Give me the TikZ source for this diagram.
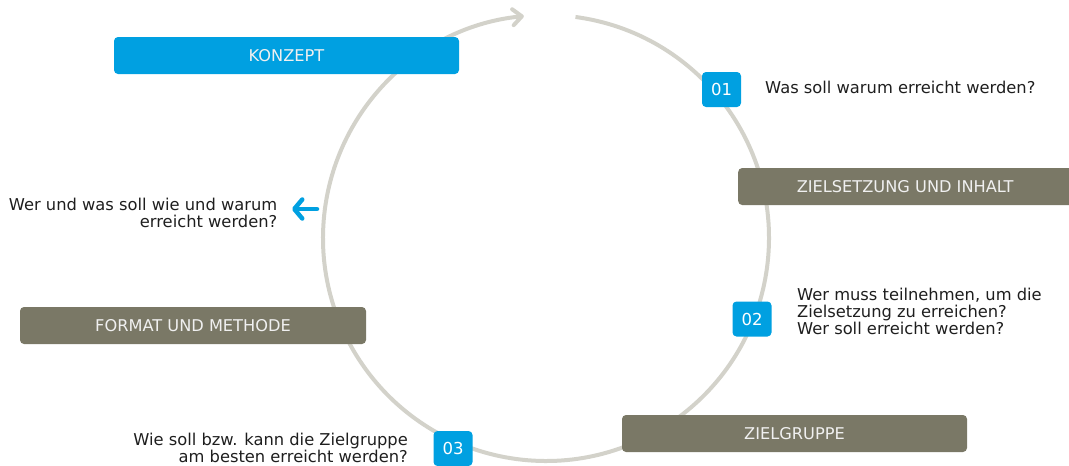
\documentclass[tikz,border=0pt]{standalone}
\usepackage{fontspec}
\setmainfont{DejaVu Sans}
\usetikzlibrary{arrows.meta}
\definecolor{cblue}{RGB}{0,160,225}
\definecolor{colive}{RGB}{122,120,102}
\definecolor{cring}{RGB}{211,210,202}
\definecolor{ctext}{RGB}{30,30,30}
\definecolor{cbartext}{RGB}{240,240,240}
\begin{document}
\begin{tikzpicture}[x=1pt,y=-1pt,
  txt/.style={inner sep=0pt, text=ctext, font=\fontsize{16.3}{17}\selectfont},
  bar/.style={rounded corners=4pt, inner sep=0pt, minimum height=37pt,
    font=\fontsize{16.2}{17.5}\selectfont, text=cbartext},
  badge/.style={rounded corners=4pt, fill=cblue, inner sep=0pt, minimum width=39pt,
    minimum height=35pt, text=white, font=\fontsize{16.5}{18}\selectfont},
  ring/.style={draw=cring, line width=4pt},
  pointer/.style={draw=cblue, line width=4.5pt, line cap=round,
    -{Straight Barb[length=8pt,width=19pt,line cap=round,round]}}
]
\useasboundingbox (0,0) rectangle (1069,466);
% ring
\coordinate (c) at (546,238);
\draw[ring, -{Straight Barb[length=9pt,width=16pt,line cap=round,round]}]
  ([shift={(-82.4:223)}]c) arc[start angle=-82.4, end angle=264.3, radius=223];
% bars
\node[bar, fill=cblue, minimum width=345pt] (konzept) at (286.5,55.5) {KONZEPT};
\node[bar, fill=colive, minimum width=345pt, anchor=west] (ziel) at (738,186.5) {\hspace*{-11pt}ZIELSETZUNG UND INHALT};
\node[bar, fill=colive, minimum width=346pt] (format) at (193,325.5) {FORMAT UND METHODE};
\node[bar, fill=colive, minimum width=345pt] (gruppe) at (794.5,433.5) {ZIELGRUPPE};
% badges
\node[badge] (b1) at (721.5,89.5) {01};
\node[badge] (b2) at (752,319) {02};
\node[badge] (b3) at (453,448.5) {03};
% texts
\node[txt, anchor=base west] (q1) at (765,93) {Was soll warum erreicht werden?};
\node[txt, anchor=north west, align=left] (q2) at (797,287.5)
  {Wer muss teilnehmen, um die\\Zielsetzung zu erreichen?\\Wer soll erreicht werden?};
\node[txt, anchor=north east, align=right] (q3) at (277.5,197.5)
  {Wer und was soll wie und warum\\erreicht werden?};
\node[txt, anchor=north east, align=right] (q4) at (408,433)
  {Wie soll bzw. kann die Zielgruppe\\am besten erreicht werden?};
% pointer
\coordinate (p1) at (317,209);
\coordinate (p2) at (292,209);
\draw[pointer] (p1) -- (p2);
\end{tikzpicture}
\end{document}
